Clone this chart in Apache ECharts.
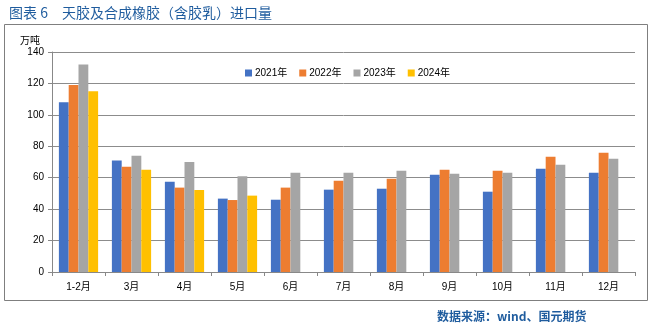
<!DOCTYPE html>
<html><head><meta charset="utf-8">
<script src="https://cdn.jsdelivr.net/npm/echarts@6/dist/echarts.min.js"></script>
<style>html,body{margin:0;padding:0;background:#fff}#c{width:658px;height:331px}</style>
</head><body><div id="c"></div>
<script>
var categories = ['1-2月','3月','4月','5月','6月','7月','8月','9月','10月','11月','12月'];
var seriesNames = ['2021年','2022年','2023年','2024年'];
var s2021 = [108, 71, 57.5, 46.7, 46, 52.4, 53, 61.9, 51.1, 65.7, 63.2];
var s2022 = [119, 67, 53.7, 45.8, 53.7, 58.1, 59.4, 65.1, 64.5, 73.4, 75.9];
var s2023 = [132, 74, 70, 61, 63.2, 63.2, 64.5, 62.6, 63.2, 68.3, 72.1];
var s2024 = [115, 65, 52.2, 48.6, null, null, null, null, null, null, null];
var yTicks = [0, 20, 40, 60, 80, 100, 120, 140];
var colors = ['#4472C4', '#ED7D31', '#A5A5A5', '#FFC000'];
var allData = [s2021, s2022, s2023, s2024];

var chart = echarts.init(document.getElementById('c'), null, {renderer: 'canvas'});
var font = '"Liberation Sans", "Noto Sans CJK SC", sans-serif';
chart.setOption({
  animation: false,
  color: colors,
  title: {
    text: '图表 6　天胶及合成橡胶（含胶乳）进口量',
    left: 4, top: 1,
    textStyle: {color: '#1F5C9E', fontSize: 14, fontWeight: 'normal', fontFamily: '"Noto Sans CJK SC", sans-serif'}
  },
  graphic: [
    {type: 'rect', shape: {x: 4.5, y: 24.5, width: 643, height: 276}, style: {fill: 'none', stroke: '#7f7f7f', lineWidth: 1}, z: -1},
    {type: 'text', left: 437, top: 310, style: {text: '数据来源：wind、国元期货', fill: '#1F5C9E', font: 'bold 12px "Noto Sans CJK SC", sans-serif'}}
  ],
  legend: {
    top: 63, left: 240,
    itemWidth: 7, itemHeight: 7, itemGap: 12,
    icon: 'rect',
    textStyle: {fontSize: 10, color: '#000', fontFamily: font, padding: [0, 0, 0, -2]},
    data: seriesNames
  },
  grid: {left: 52, right: 23, top: 52, bottom: 59, containLabel: false},
  xAxis: {
    type: 'category', data: categories,
    axisLine: {lineStyle: {color: '#888', width: 1}},
    axisTick: {show: true, alignWithLabel: false, length: 4, lineStyle: {color: '#888'}},
    axisLabel: {fontSize: 10, color: '#000', fontFamily: font, margin: 10}
  },
  yAxis: {
    type: 'value', min: 0, max: 140, interval: 20,
    name: '万吨', nameLocation: 'end', nameGap: 6,
    nameTextStyle: {fontSize: 10, color: '#000', fontFamily: font, align: 'right', padding: [0, 12, 0, 0]},
    axisLine: {show: true, lineStyle: {color: '#888'}},
    axisTick: {show: true, length: 4, lineStyle: {color: '#888'}},
    axisLabel: {fontSize: 10, color: '#000', fontFamily: font, margin: 8},
    splitLine: {lineStyle: {color: '#8c8c8c', width: 1}}
  },
  series: seriesNames.map(function (n, i) {
    return {name: n, type: 'bar', data: allData[i], barGap: '0%', barCategoryGap: '26%',
      itemStyle: {color: colors[i]}};
  })
});
</script></body></html>
